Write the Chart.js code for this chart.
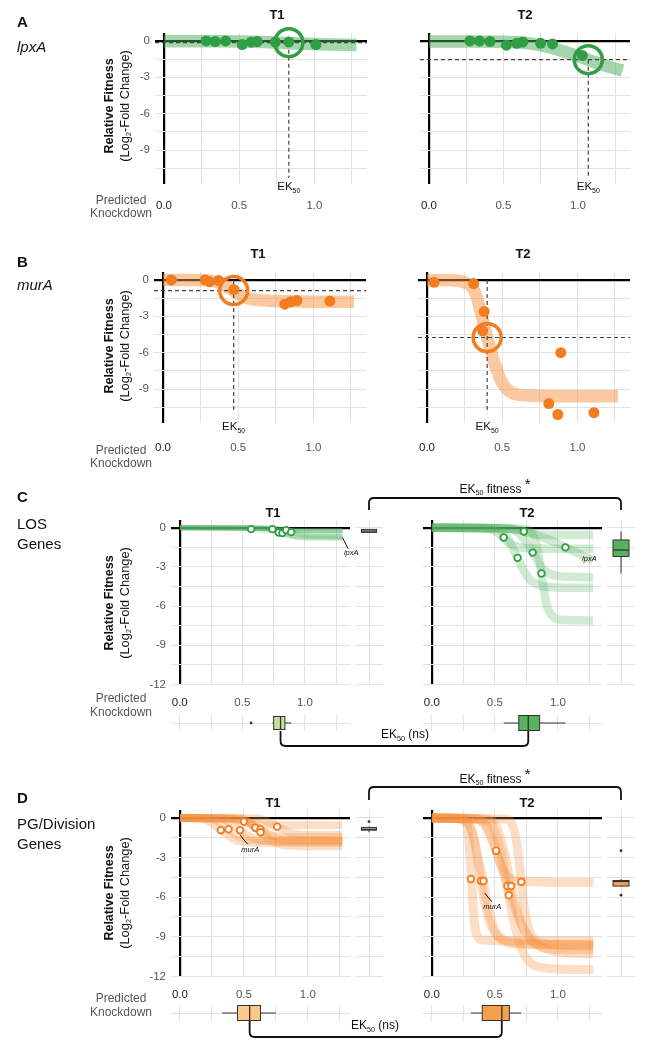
<!DOCTYPE html>
<html><head><meta charset="utf-8">
<script src="https://cdn.jsdelivr.net/npm/chart.js@4.4.1/dist/chart.umd.min.js"></script>
<style>
html,body{margin:0;padding:0;background:#fff}
body{position:relative;width:652px;height:1050px;overflow:hidden;font-family:"Liberation Sans",Arial,Helvetica,sans-serif;color:#111}
canvas{position:absolute}
.t{position:absolute;white-space:nowrap;line-height:1}
.t sub{font-size:0.6em;vertical-align:-0.35em;line-height:0}
</style></head><body>
<script>
// ================= DATA =================
const xGridValues = [0, 0.25, 0.5, 0.75, 1, 1.25];
const xTickLabels = [0, 0.5, 1];
const yGridAB = [0, -1.5, -3, -4.5, -6, -7.5, -9, -10.5];
const yGridCD = [0, -1.5, -3, -4.5, -6, -7.5, -9, -10.5, -12];
const yTickLabels = [0, -3, -6, -9, -12];

// Panel A: lpxA
const A_T1_knockdown = [0.28, 0.34, 0.41, 0.52, 0.58, 0.62, 0.74, 0.83, 1.01];
const A_T1_fitness   = [0, -0.05, 0, -0.3, -0.1, -0.05, -0.1, -0.1, -0.3];
const A_T1_curve = [[0,-0.02],[0.3,-0.03],[0.5,-0.05],[0.6,-0.08],[0.7,-0.12],[0.8,-0.17],[0.9,-0.22],[1.0,-0.26],[1.1,-0.3],[1.28,-0.34]];
const A_T1_ek50 = [0.83, -0.15];
const A_T2_knockdown = [0.275, 0.34, 0.41, 0.52, 0.59, 0.63, 0.75, 0.83, 1.03];
const A_T2_fitness   = [0, 0, -0.05, -0.35, -0.2, -0.1, -0.2, -0.25, -1.2];
const A_T2_curve = [[0,-0.05],[0.3,-0.05],[0.5,-0.08],[0.6,-0.12],[0.7,-0.25],[0.8,-0.5],[0.9,-0.85],[1.0,-1.25],[1.1,-1.7],[1.2,-2.1],[1.3,-2.45]];
const A_T2_ek50 = [1.07, -1.55];

// Panel B: murA
const B_T1_knockdown = [0.055, 0.28, 0.31, 0.37, 0.47, 0.81, 0.85, 0.89, 1.11];
const B_T1_fitness   = [0, 0, -0.15, -0.05, -0.8, -2.0, -1.8, -1.7, -1.75];
const B_T1_curve = [[0,0],[0.2,0],[0.3,-0.05],[0.35,-0.15],[0.4,-0.4],[0.45,-0.75],[0.5,-1.15],[0.55,-1.45],[0.6,-1.6],[0.7,-1.72],[0.8,-1.77],[1.0,-1.8],[1.27,-1.8]];
const B_T1_ek50 = [0.47, -0.88];
const B_T2_knockdown = [0.047, 0.31, 0.38, 0.37, 0.89, 0.81, 0.87, 1.11];
const B_T2_fitness   = [-0.2, -0.3, -2.6, -4.2, -6.0, -10.2, -11.1, -10.95];
const B_T2_curve = [[0,0],[0.15,-0.02],[0.25,-0.2],[0.3,-0.6],[0.33,-1.4],[0.36,-2.8],[0.4,-4.75],[0.45,-6.9],[0.5,-8.5],[0.55,-9.2],[0.6,-9.45],[0.7,-9.55],[0.9,-9.6],[1.27,-9.6]];
const B_T2_ek50 = [0.40, -4.75];

// Panel C: LOS genes (EK50 knockdown / EK50 fitness per gene)
const C_T1_ek50_x = [0.57, 0.74, 0.79, 0.82, 0.85, 0.89];
const C_T1_ek50_y = [-0.1, -0.1, -0.36, -0.4, -0.18, -0.33];
const C_T1_curves = [
  [[0,0],[0.42,-0.01],[0.5,-0.04],[0.57,-0.1],[0.64,-0.16],[0.72,-0.19],[1.3,-0.2]],
  [[0,0],[0.59,-0.01],[0.67,-0.04],[0.74,-0.1],[0.81,-0.16],[0.89,-0.19],[1.3,-0.2]],
  [[0,0],[0.64,-0.03],[0.72,-0.14],[0.79,-0.36],[0.86,-0.58],[0.94,-0.69],[1.3,-0.72]],
  [[0,0],[0.67,-0.03],[0.75,-0.16],[0.82,-0.4],[0.89,-0.64],[0.97,-0.77],[1.3,-0.8]],
  [[0,0],[0.7,-0.02],[0.78,-0.07],[0.85,-0.18],[0.92,-0.29],[1.0,-0.34],[1.3,-0.36]],
  [[0,0],[0.74,-0.03],[0.82,-0.13],[0.89,-0.33],[0.96,-0.53],[1.04,-0.63],[1.3,-0.66]]
];
const C_T2_ek50_x = [0.57, 0.73, 0.68, 0.80, 0.87, 1.06];
const C_T2_ek50_y = [-0.74, -0.28, -2.3, -1.9, -3.5, -1.5];
const C_T2_curves = [
  [[0,0],[0.4,-0.02],[0.48,-0.15],[0.53,-0.45],[0.57,-0.8],[0.61,-1.15],[0.66,-1.4],[0.75,-1.55],[0.9,-1.6],[1.28,-1.6]],
  [[0,0],[0.6,-0.03],[0.68,-0.15],[0.73,-0.28],[0.78,-0.42],[0.85,-0.52],[1.0,-0.55],[1.28,-0.55]],
  [[0,0],[0.5,-0.05],[0.58,-0.5],[0.63,-1.3],[0.68,-2.3],[0.73,-3.3],[0.78,-4.0],[0.85,-4.4],[0.95,-4.55],[1.28,-4.6]],
  [[0,0],[0.6,-0.05],[0.7,-0.5],[0.75,-1.1],[0.8,-1.9],[0.85,-2.7],[0.9,-3.3],[1.0,-3.7],[1.28,-3.8]],
  [[0,0],[0.75,-0.1],[0.8,-0.5],[0.83,-1.3],[0.85,-2.3],[0.87,-3.5],[0.89,-4.8],[0.91,-5.9],[0.95,-6.7],[1.02,-7.05],[1.28,-7.1]],
  [[0,0],[0.6,-0.05],[0.7,-0.2],[0.8,-0.45],[0.9,-0.8],[1.0,-1.2],[1.06,-1.5],[1.15,-1.9],[1.28,-2.5]]
];
// boxplot stats [min, q1, median, q3, max]
const C_T1_knock_box = [0.74, 0.75, 0.805, 0.84, 0.89];
const C_T1_knock_out = [0.57];
const C_T2_knock_box = [0.57, 0.69, 0.765, 0.855, 1.06];
const C_T1_fit_box = [-0.4, -0.35, -0.25, -0.12, -0.1];
const C_T2_fit_box = [-3.5, -2.2, -1.7, -0.93, -0.28];

// Panel D: PG/Division genes
const D_T1_ek50_x = [0.32, 0.38, 0.47, 0.50, 0.59, 0.63, 0.63, 0.76];
const D_T1_ek50_y = [-0.93, -0.86, -0.93, -0.28, -0.74, -0.86, -1.09, -0.66];
const D_T1_curves = [
  [[0,0],[0.17,-0.05],[0.24,-0.35],[0.32,-0.93],[0.40,-1.5],[0.48,-1.8],[0.6,-1.88],[1.27,-1.9]],
  [[0,0],[0.23,-0.05],[0.30,-0.3],[0.38,-0.86],[0.46,-1.4],[0.54,-1.66],[0.66,-1.73],[1.27,-1.75]],
  [[0,0],[0.3,-0.05],[0.37,-0.2],[0.42,-0.5],[0.47,-0.9],[0.52,-1.25],[0.58,-1.55],[0.7,-1.75],[1.27,-1.8]],
  [[0,0],[0.35,-0.02],[0.42,-0.1],[0.5,-0.28],[0.58,-0.45],[0.66,-0.53],[1.27,-0.55]],
  [[0,0],[0.44,-0.05],[0.51,-0.3],[0.59,-0.74],[0.67,-1.15],[0.75,-1.38],[0.88,-1.44],[1.27,-1.45]],
  [[0,0],[0.48,-0.05],[0.55,-0.35],[0.63,-0.86],[0.71,-1.35],[0.79,-1.62],[0.92,-1.69],[1.27,-1.7]],
  [[0,0],[0.48,-0.06],[0.55,-0.45],[0.63,-1.09],[0.71,-1.7],[0.79,-2.02],[0.92,-2.12],[1.27,-2.15]],
  [[0,0],[0.61,-0.04],[0.68,-0.25],[0.76,-0.66],[0.84,-1.05],[0.92,-1.24],[1.05,-1.29],[1.27,-1.3]]
];
const D_T2_ek50_x = [0.31, 0.39, 0.41, 0.51, 0.60, 0.63, 0.61, 0.71];
const D_T2_ek50_y = [-4.63, -4.78, -4.78, -2.48, -5.16, -5.16, -5.85, -4.84];
const D_T2_curves = [
  [[0,0],[0.24,-0.05],[0.28,-0.5],[0.30,-2.5],[0.315,-4.63],[0.33,-7],[0.35,-8.7],[0.4,-9.25],[0.6,-9.3],[1.28,-9.3]],
  [[0,0],[0.25,-0.1],[0.3,-0.6],[0.34,-1.8],[0.39,-4.78],[0.44,-7.3],[0.5,-8.7],[0.6,-9.3],[0.8,-9.55],[1.28,-9.6]],
  [[0,0],[0.15,-0.02],[0.25,-0.2],[0.3,-0.6],[0.33,-1.4],[0.36,-2.8],[0.41,-4.78],[0.45,-6.9],[0.5,-8.5],[0.55,-9.2],[0.6,-9.45],[0.7,-9.55],[1.28,-9.6]],
  [[0,0],[0.35,-0.05],[0.42,-0.4],[0.47,-1.3],[0.51,-2.48],[0.55,-3.6],[0.6,-4.4],[0.7,-4.8],[1.28,-4.9]],
  [[0,0],[0.35,-0.1],[0.42,-0.6],[0.5,-2.2],[0.6,-5.16],[0.7,-7.8],[0.8,-9.3],[0.9,-9.9],[1.05,-10.2],[1.28,-10.3]],
  [[0,0],[0.45,-0.1],[0.52,-0.8],[0.58,-2.8],[0.63,-5.16],[0.69,-7.5],[0.76,-9.0],[0.85,-9.7],[1.0,-9.95],[1.28,-10.0]],
  [[0,0],[0.45,-0.2],[0.5,-1.0],[0.55,-2.6],[0.61,-5.85],[0.67,-8.6],[0.73,-10.3],[0.8,-11.1],[0.95,-11.4],[1.28,-11.5]],
  [[0,0],[0.6,-0.1],[0.65,-0.8],[0.68,-2.3],[0.71,-4.84],[0.74,-7.2],[0.78,-8.7],[0.85,-9.4],[1.0,-9.65],[1.28,-9.7]]
];
const D_T1_knock_box = [0.33, 0.45, 0.545, 0.63, 0.75];
const D_T2_knock_box = [0.31, 0.40, 0.555, 0.615, 0.71];
const D_T1_fit_box = [-1.09, -0.93, -0.86, -0.72, -0.66];
const D_T1_fit_out = [-0.28];
const D_T2_fit_box = [-5.16, -5.16, -4.81, -4.74, -4.63];
const D_T2_fit_out = [-5.85, -2.48];

// ================= STYLE / HELPERS =================
const FONT = '"Liberation Sans", Arial, Helvetica, sans-serif';
Chart.defaults.font.family = FONT;
const GREEN = '#2f9e44', ORANGE = '#f47c20';
const GREEN_BAND = 'rgba(75,172,90,0.5)', ORANGE_BAND = 'rgba(246,148,66,0.5)';
const GREEN_LINE = 'rgba(85,178,100,0.28)', ORANGE_LINE = 'rgba(246,146,66,0.3)';

const extrasPlugin = {
  id: 'extras',
  afterDatasetsDraw(chart, args, o) {
    const ctx = chart.ctx, X = chart.scales.x, Y = chart.scales.y, A = chart.chartArea;
    ctx.save();
    if (o.ek !== undefined && o.ek !== null) {
      const px = X.getPixelForValue(o.ek);
      ctx.fillStyle = '#111'; ctx.textBaseline = 'alphabetic'; ctx.textAlign = 'left';
      ctx.font = '11.5px ' + FONT; const w1 = ctx.measureText('EK').width;
      ctx.font = '7px ' + FONT; const w2 = ctx.measureText('50').width;
      const x0 = px - (w1 + w2) / 2, base = A.bottom + o.ekDy;
      ctx.font = '11.5px ' + FONT; ctx.fillText('EK', x0, base);
      ctx.font = '7px ' + FONT; ctx.fillText('50', x0 + w1, base + 3);
    }
    (o.genes || []).forEach(g => {
      ctx.strokeStyle = '#111'; ctx.lineWidth = 1;
      if (g.line) {
        ctx.beginPath();
        ctx.moveTo(X.getPixelForValue(g.line[0]), Y.getPixelForValue(g.line[1]));
        ctx.lineTo(X.getPixelForValue(g.line[2]), Y.getPixelForValue(g.line[3]));
        ctx.stroke();
      }
      ctx.font = 'italic 7.5px ' + FONT; ctx.textAlign = 'center'; ctx.textBaseline = 'middle'; ctx.fillStyle = '#111';
      ctx.fillText(g.text, X.getPixelForValue(g.at[0]), Y.getPixelForValue(g.at[1]));
    });
    if (o.hbox) drawBox(ctx, o.hbox, v => X.getPixelForValue(v), (A.top + A.bottom) / 2, true);
    if (o.vbox) drawBox(ctx, o.vbox, v => Y.getPixelForValue(v), X.getPixelForValue(0), false);
    ctx.restore();
  }
};
Chart.register(extrasPlugin);

function drawBox(ctx, b, P, c, horiz) {
  const s = b.stats, h = b.size / 2;
  ctx.strokeStyle = '#333'; ctx.lineWidth = 1;
  const seg = (a1, b1, a2, b2) => { ctx.beginPath(); if (horiz) { ctx.moveTo(a1, b1); ctx.lineTo(a2, b2); } else { ctx.moveTo(b1, a1); ctx.lineTo(b2, a2); } ctx.stroke(); };
  seg(P(s[0]), c, P(s[1]), c); seg(P(s[3]), c, P(s[4]), c);
  const a = Math.min(P(s[1]), P(s[3])), len = Math.max(Math.abs(P(s[3]) - P(s[1])), 1);
  ctx.fillStyle = b.fill;
  if (horiz) { ctx.fillRect(a, c - h, len, 2 * h); ctx.strokeRect(a, c - h, len, 2 * h); }
  else { ctx.fillRect(c - h, a, 2 * h, len); ctx.strokeRect(c - h, a, 2 * h, len); }
  ctx.lineWidth = 1.3; seg(P(s[2]), c - h, P(s[2]), c + h);
  (b.out || []).forEach(v => {
    ctx.fillStyle = '#333'; ctx.beginPath();
    if (horiz) ctx.arc(P(v), c, 1.4, 0, 7); else ctx.arc(c, P(v), 1.4, 0, 7);
    ctx.fill();
  });
}

function place(l, t, w, h) {
  const c = document.createElement('canvas');
  c.width = Math.round(w); c.height = Math.round(h);
  c.style.left = Math.round(l) + 'px'; c.style.top = Math.round(t) + 'px';
  c.style.width = Math.round(w) + 'px'; c.style.height = Math.round(h) + 'px';
  document.body.appendChild(c); return c;
}
const toPts = (xs, ys) => xs.map((x, i) => ({ x, y: ys[i] }));
const toXY = arr => arr.map(p => ({ x: p[0], y: p[1] }));
const dsPoints = (data, color, r) => ({ data, showLine: false, pointRadius: r, pointBackgroundColor: color, pointBorderWidth: 0, clip: false });
const dsRings = (data, color, r, bw, bg) => ({ data, showLine: false, pointRadius: r, pointBackgroundColor: bg, pointBorderColor: color, pointBorderWidth: bw, clip: false });
const dsCurve = (data, color, w) => ({ data, showLine: true, borderColor: color, borderWidth: w, pointRadius: 0, cubicInterpolationMode: 'monotone', fill: false, clip: false, borderCapStyle: 'butt' });
const dsDash = data => ({ data, showLine: true, borderColor: '#444', borderWidth: 1.2, borderDash: [4, 3], pointRadius: 0, clip: false, fill: false, tension: 0 });

const baseOpts = () => ({ responsive: false, animation: false, events: [], maintainAspectRatio: false });
const gColor = c => (c.tick && c.tick.value === 0) ? '#000' : '#e2e2e2';
const gWidth = c => (c.tick && c.tick.value === 0) ? 2.2 : 1;

function area(g) {
  return { L: g.x0 + g.xmin * g.xu, R: g.x0 + g.xmax * g.xu, T: g.y0 - g.ymax * g.yu, B: g.y0 - g.ymin * g.yu };
}

function mainChart(g, yGrid, showY, xPad, datasets, extras) {
  const a = area(g), PL = 45, PR = 24, PT = 24, PB = 40;
  const cv = place(a.L - PL, a.T - PT, a.R - a.L + PL + PR, a.B - a.T + PT + PB);
  return new Chart(cv, {
    type: 'line', data: { datasets },
    options: Object.assign(baseOpts(), {
      layout: { padding: { left: 0, right: PR, top: PT, bottom: 0 }, autoPadding: false },
      plugins: { legend: { display: false }, tooltip: { enabled: false }, extras },
      scales: {
        x: { type: 'linear', min: g.xmin, max: g.xmax,
          afterFit: s => { s.height = PB; }, afterBuildTicks: s => { s.ticks = xGridValues.map(v => ({ value: v })); },
          border: { display: false }, grid: { color: gColor, lineWidth: gWidth, drawTicks: false },
          ticks: { autoSkip: false, maxRotation: 0, padding: xPad, font: { size: 11.5 },
            color: c => (c.tick && c.tick.value === 0) ? '#1a1a1a' : '#555',
            callback: v => xTickLabels.includes(v) ? v.toFixed(1) : '' } },
        y: { type: 'linear', min: g.ymin, max: g.ymax,
          afterFit: s => { s.width = PL; }, afterBuildTicks: s => { s.ticks = yGrid.map(v => ({ value: v })); },
          border: { display: false }, grid: { color: gColor, lineWidth: gWidth, drawTicks: false },
          ticks: { display: showY, padding: 5, font: { size: 11.5 }, color: '#555',
            callback: v => yTickLabels.includes(v) ? String(v) : '' } }
      }
    })
  });
}

function colChart(cx, w, g, yGrid, box) {
  const a = area(g), PL = 2, PR = 2, PT = 4, PB = 2;
  const cv = place(cx - w / 2 - PL, a.T - PT, w + PL + PR, a.B - a.T + PT + PB);
  return new Chart(cv, {
    type: 'line', data: { datasets: [] },
    options: Object.assign(baseOpts(), {
      layout: { padding: { left: 0, right: PR, top: PT, bottom: 0 }, autoPadding: false },
      plugins: { legend: { display: false }, tooltip: { enabled: false }, extras: { vbox: box } },
      scales: {
        x: { type: 'linear', min: -1, max: 1, afterFit: s => { s.height = PB; }, afterBuildTicks: s => { s.ticks = [{ value: 0 }]; },
          border: { display: false }, grid: { color: '#e2e2e2', drawTicks: false }, ticks: { display: false } },
        y: { type: 'linear', min: g.ymin, max: g.ymax, afterFit: s => { s.width = PL; }, afterBuildTicks: s => { s.ticks = yGrid.map(v => ({ value: v })); },
          border: { display: false }, grid: { color: '#e2e2e2', drawTicks: false }, ticks: { display: false } }
      }
    })
  });
}

function stripChart(g, yc, h, box) {
  const a = area(g), PL = 2, PR = 2, PT = 2, PB = 2;
  const cv = place(a.L - PL, yc - h / 2 - PT, a.R - a.L + PL + PR, h + PT + PB);
  return new Chart(cv, {
    type: 'line', data: { datasets: [] },
    options: Object.assign(baseOpts(), {
      layout: { padding: { left: 0, right: PR, top: PT, bottom: 0 }, autoPadding: false },
      plugins: { legend: { display: false }, tooltip: { enabled: false }, extras: { hbox: box } },
      scales: {
        x: { type: 'linear', min: g.xmin, max: g.xmax, afterFit: s => { s.height = PB; }, afterBuildTicks: s => { s.ticks = xGridValues.map(v => ({ value: v })); },
          border: { display: false }, grid: { color: '#e2e2e2', drawTicks: false }, ticks: { display: false } },
        y: { type: 'linear', min: 0, max: 2, afterFit: s => { s.width = PL; }, afterBuildTicks: s => { s.ticks = [{ value: 1 }]; },
          border: { display: false }, grid: { color: '#e2e2e2', drawTicks: false }, ticks: { display: false } }
      }
    })
  });
}

// ================= LAYOUT GEOMETRY =================
const gA1 = { x0: 164, xu: 150, y0: 41.3, yu: 12.1, xmin: -0.06, xmax: 1.35, ymin: -11.8, ymax: 0.65 };
const gA2 = { x0: 429, xu: 149, y0: 41.3, yu: 12.1, xmin: -0.06, xmax: 1.35, ymin: -11.8, ymax: 0.65 };
const gB1 = { x0: 163, xu: 150, y0: 280, yu: 12.1, xmin: -0.06, xmax: 1.35, ymin: -11.8, ymax: 0.65 };
const gB2 = { x0: 427, xu: 150, y0: 280, yu: 12.1, xmin: -0.06, xmax: 1.35, ymin: -11.8, ymax: 0.65 };
const gC1 = { x0: 180, xu: 125, y0: 528, yu: 13.08, xmin: -0.07, xmax: 1.36, ymin: -12.05, ymax: 0.6 };
const gC2 = { x0: 432, xu: 126, y0: 528, yu: 13.08, xmin: -0.07, xmax: 1.35, ymin: -12.05, ymax: 0.6 };
const gD1 = { x0: 180, xu: 128, y0: 818, yu: 13.17, xmin: -0.07, xmax: 1.33, ymin: -12.05, ymax: 0.6 };
const gD2 = { x0: 432, xu: 126, y0: 818, yu: 13.17, xmin: -0.07, xmax: 1.35, ymin: -12.05, ymax: 0.6 };

// ================= PANEL A =================
function ekPanel(g, showY, xPad, pts, curve, ek, vTop, vBot, color, band, ekDy) {
  const xmin = g.xmin, xmax = g.xmax;
  return mainChart(g, yGridAB, showY, xPad, [
    dsRings([{ x: ek[0], y: ek[1] }], color, 14, 3.5, 'rgba(0,0,0,0)'),
    dsPoints(pts, color, 5.5),
    dsDash([{ x: ek[0], y: vTop }, { x: ek[0], y: vBot }]),
    dsDash([{ x: xmin, y: ek[1] }, { x: xmax, y: ek[1] }]),
    dsCurve(toXY(curve), band, 12.5)
  ], { ek: ek[0], ekDy });
}
ekPanel(gA1, true, 15, toPts(A_T1_knockdown, A_T1_fitness), A_T1_curve, A_T1_ek50, A_T1_ek50[1], -11.3, GREEN, GREEN_BAND, 6);
ekPanel(gA2, false, 15, toPts(A_T2_knockdown, A_T2_fitness), A_T2_curve, A_T2_ek50, A_T2_ek50[1], -11.3, GREEN, GREEN_BAND, 6);
ekPanel(gB1, true, 18, toPts(B_T1_knockdown, B_T1_fitness), B_T1_curve, B_T1_ek50, 0, -11.0, ORANGE, ORANGE_BAND, 6.5);
ekPanel(gB2, false, 18, toPts(B_T2_knockdown, B_T2_fitness), B_T2_curve, B_T2_ek50, 0, -11.0, ORANGE, ORANGE_BAND, 6.5);

// ================= PANELS C & D =================
function groupPanel(g, showY, xPad, curves, ex, ey, color, lineColor, lw, genes) {
  const ds = [dsRings(toPts(ex, ey), color, 3.3, 1.8, '#ffffff')];
  curves.forEach(c => ds.push(dsCurve(toXY(c), lineColor, lw)));
  return mainChart(g, yGridCD, showY, xPad, ds, { genes });
}
groupPanel(gC1, true, 11, C_T1_curves, C_T1_ek50_x, C_T1_ek50_y, GREEN, GREEN_LINE, 5,
  [{ text: 'lpxA', at: [1.37, -1.95], line: [1.30, -0.75, 1.345, -1.6] }]);
groupPanel(gC2, false, 11, C_T2_curves, C_T2_ek50_x, C_T2_ek50_y, GREEN, GREEN_LINE, 8.5,
  [{ text: 'lpxA', at: [1.25, -2.35] }]);
groupPanel(gD1, true, 11, D_T1_curves, D_T1_ek50_x, D_T1_ek50_y, ORANGE, ORANGE_LINE, 8,
  [{ text: 'murA', at: [0.55, -2.45], line: [0.47, -1.3, 0.53, -2.0] }]);
groupPanel(gD2, false, 11, D_T2_curves, D_T2_ek50_x, D_T2_ek50_y, ORANGE, ORANGE_LINE, 9,
  [{ text: 'murA', at: [0.48, -6.75], line: [0.42, -5.7, 0.475, -6.35] }]);

const colC1 = colChart(369, 28, gC1, yGridCD, { stats: C_T1_fit_box, fill: '#c5e1a0', size: 15 });
const colC2 = colChart(621, 28, gC2, yGridCD, { stats: C_T2_fit_box, fill: '#58b15f', size: 16 });
const colD1 = colChart(369, 28, gD1, yGridCD, { stats: D_T1_fit_box, out: D_T1_fit_out, fill: '#fdc98a', size: 15 });
const colD2 = colChart(621, 28, gD2, yGridCD, { stats: D_T2_fit_box, out: D_T2_fit_out, fill: '#f5a04d', size: 16 });

const stC1 = stripChart(gC1, 722.5, 16, { stats: C_T1_knock_box, out: C_T1_knock_out, fill: '#c5e1a0', size: 13 });
const stC2 = stripChart(gC2, 722.5, 16, { stats: C_T2_knock_box, fill: '#58b15f', size: 15 });
const stD1 = stripChart(gD1, 1012.5, 16, { stats: D_T1_knock_box, fill: '#fdc98a', size: 15 });
const stD2 = stripChart(gD2, 1012.5, 16, { stats: D_T2_knock_box, fill: '#f5a04d', size: 15 });

// ================= BRACKETS =================
const ov = place(0, 0, 652, 1050);
const octx = ov.getContext('2d');
octx.strokeStyle = '#111'; octx.lineWidth = 1.8; octx.lineJoin = 'round';
const pageX = (ch, v) => ch.canvas.offsetLeft + ch.scales.x.getPixelForValue(v);
function bracket(x1, x2, yFlat, yEnd) {
  const r = 5, d = yEnd > yFlat ? 1 : -1;
  octx.beginPath();
  octx.moveTo(x1, yEnd); octx.lineTo(x1, yFlat + d * r);
  octx.quadraticCurveTo(x1, yFlat, x1 + r, yFlat);
  octx.lineTo(x2 - r, yFlat);
  octx.quadraticCurveTo(x2, yFlat, x2, yFlat + d * r);
  octx.lineTo(x2, yEnd); octx.stroke();
}
bracket(pageX(colC1, 0), pageX(colC2, 0), 498, 510);
bracket(pageX(colD1, 0), pageX(colD2, 0), 787, 800);
bracket(pageX(stC1, C_T1_knock_box[2]), pageX(stC2, C_T2_knock_box[2]), 746, 731);
bracket(pageX(stD1, D_T1_knock_box[2]), pageX(stD2, D_T2_knock_box[2]), 1037, 1021);

// ================= TEXT =================
function txt(html, x, y, css, center) {
  const d = document.createElement('div'); d.className = 't'; d.innerHTML = html;
  d.style.cssText += css; d.style.left = x + 'px'; d.style.top = y + 'px';
  if (center) d.style.transform = center;
  document.body.appendChild(d);
}
const C = 'translate(-50%,-50%)';
const ROT = 'translate(-50%,-50%) rotate(-90deg)';
// panel letters & names
txt('A', 17, 14, 'font-weight:bold;font-size:15px;');
txt('<i>lpxA</i>', 17, 39, 'font-size:15px;');
txt('B', 17, 254, 'font-weight:bold;font-size:15px;');
txt('<i>murA</i>', 17, 277, 'font-size:15px;');
txt('C', 17, 489, 'font-weight:bold;font-size:15px;');
txt('LOS<br>Genes', 17, 514, 'font-size:15px;line-height:20px;');
txt('D', 17, 790, 'font-weight:bold;font-size:15px;');
txt('PG/Division<br>Genes', 17, 814, 'font-size:15px;line-height:20px;');
// subplot titles
[[277, 14], [525, 14], [258, 253], [523, 253], [273, 512], [527, 512], [273, 802], [527, 802]].forEach((p, i) => {
  txt(i % 2 === 0 ? 'T1' : 'T2', p[0], p[1], 'font-weight:bold;font-size:13px;', C);
});
// y titles
[106, 346, 603, 893].forEach(cy => {
  txt('Relative Fitness', 109, cy, 'font-weight:bold;font-size:12.5px;', ROT);
  txt('(Log<sub>2</sub>-Fold Change)', 124.5, cy, 'font-size:12.8px;', ROT);
});
// predicted knockdown
[[200, 213], [450, 463], [698, 712], [998, 1012]].forEach(p => {
  txt('Predicted', 121, p[0], 'font-size:12px;color:#555;', C);
  txt('Knockdown', 121, p[1], 'font-size:12px;color:#555;', C);
});
// bracket labels
txt('EK<sub>50</sub> fitness <span style="font-size:15px;position:relative;top:-4px">*</span>', 495, 487, 'font-size:12px;', C);
txt('EK<sub>50</sub> fitness <span style="font-size:15px;position:relative;top:-4px">*</span>', 495, 777, 'font-size:12px;', C);
txt('EK<sub>50</sub> (ns)', 405, 734, 'font-size:12px;', C);
txt('EK<sub>50</sub> (ns)', 375, 1025, 'font-size:12px;', C);
</script>
</body></html>
